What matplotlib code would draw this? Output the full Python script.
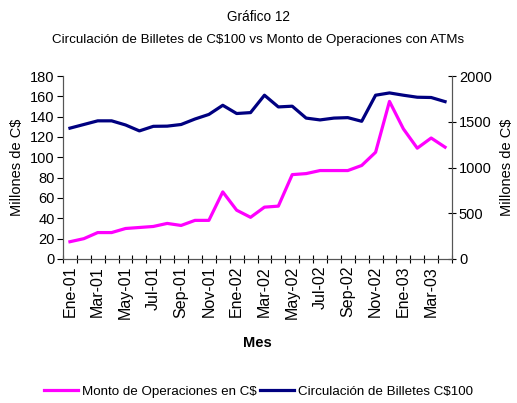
import matplotlib
matplotlib.use("Agg")
import matplotlib.pyplot as plt
import numpy as np

plt.rcParams['font.family'] = ['Liberation Sans', 'DejaVu Sans']

# monthly data, Ene-01 .. Abr-03
meses = ['Ene', 'Feb', 'Mar', 'Abr', 'May', 'Jun', 'Jul', 'Ago', 'Sep', 'Oct', 'Nov', 'Dic']
labels = [f'{m}-{y:02d}' for y in (1, 2, 3) for m in meses][:28]

# Monto de Operaciones en C$ (left axis, millones)
monto = [17, 20, 26, 26, 30, 31, 32, 35, 33, 38, 38, 66, 48, 41,
         51, 52, 83, 84, 87, 87, 87, 92, 105, 155, 128, 109, 119, 110]

# Circulación de Billetes C$100 (right axis, millones)
circulacion = [1430, 1470, 1510, 1510, 1465, 1400, 1450, 1452, 1470, 1530,
               1580, 1680, 1590, 1600, 1790, 1662, 1670, 1540, 1520, 1540,
               1545, 1505, 1790, 1815, 1790, 1768, 1765, 1720]

x = np.arange(len(labels))

fig = plt.figure(figsize=(5.17, 4.03), dpi=100)
ax = fig.add_axes([63/517, 1-259/403, (452-63)/517, (259-76)/403])
ax2 = ax.twinx()

l1, = ax.plot(x, monto, color='#FF00FF', lw=2.3, label='Monto de Operaciones en C$')
l2, = ax2.plot(x, circulacion, color='#000080', lw=2.3, label='Circulación de Billetes C$100')

ax.set_xlim(-0.5, len(labels) - 0.5)
ax.set_ylim(0, 180)
ax.set_yticks(np.arange(0, 181, 20))
ax2.set_ylim(0, 2000)
ax2.set_yticks(np.arange(0, 2001, 500))

# ticks on category boundaries, labels every other month
ax.set_xticks(np.arange(-0.5, len(labels)))
ax.set_xticklabels([])
ax.set_xticks(x[::2], minor=True)
ax.set_xticklabels(labels[::2], minor=True, rotation=90, fontsize=11.5)
ax.tick_params(axis='x', which='major', direction='inout', length=6, width=0.8)
ax.tick_params(axis='x', which='minor', length=0, pad=5)
ax.tick_params(axis='y', direction='out', length=4, width=0.8, labelsize=10.5, pad=2)
ax2.tick_params(axis='y', direction='inout', length=6, width=0.8, labelsize=10.5, pad=2)

for a in (ax, ax2):
    a.spines['top'].set_visible(False)
    for s in ('left', 'right', 'bottom'):
        a.spines[s].set_color('#555555')

ax.set_ylabel('Millones de C$', fontsize=10.5, labelpad=4)
ax2.set_ylabel('Millones de C$', fontsize=10.5, labelpad=6)
ax.set_xlabel('Mes', fontsize=10.5, fontweight='bold', labelpad=12)

fig.text(0.5, 1-17/403, 'Gráfico 12', ha='center', va='center', fontsize=9.8)
fig.text(0.5, 1-40/403, 'Circulación de Billetes de C$100 vs Monto de Operaciones con ATMs',
         ha='center', va='center', fontsize=9.6)

fig.legend(handles=[l1, l2], loc='center', bbox_to_anchor=(0.5, 1-392/403), ncol=2,
           frameon=False, fontsize=9.6, handlelength=2.5, handletextpad=0.3, columnspacing=0.3)

fig.savefig('out.png', dpi=100)
